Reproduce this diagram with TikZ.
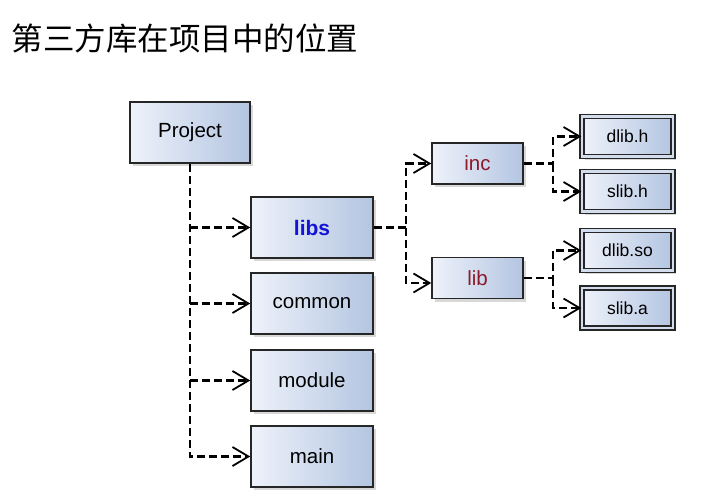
\documentclass[tikz,border=0pt]{standalone}
\usepackage{fontspec}
\setmainfont{Liberation Sans}
\newfontfamily\cjk{Noto Sans CJK SC}
\usetikzlibrary{arrows.meta,shadows}
\definecolor{boxl}{HTML}{EEF2FA}
\definecolor{boxr}{HTML}{B3C5E1}
\definecolor{boxm}{HTML}{D3DDEE}
\definecolor{libsblue}{HTML}{1414D8}
\definecolor{incred}{HTML}{8B1A2A}
\tikzset{
  box/.style={draw=black!85, line width=1.5pt, left color=boxl, right color=boxr,
    minimum width=#1, inner sep=0pt,
    drop shadow={shadow xshift=3pt, shadow yshift=-3pt, opacity=0.25, fill=black!60}},
  big/.style={box=122pt, minimum height=61pt, font=\fontsize{20.5}{24}\selectfont},
  mid/.style={box=91pt, minimum height=41pt, font=\fontsize{20.5}{24}\selectfont, text=incred},
  file/.style={box=91pt, minimum height=40pt, font=\fontsize{17.5}{20}\selectfont,
    double=boxm, double distance=2.4pt, line width=1.4pt},
  conn/.style={line width=2.1pt, dash pattern=on 8pt off 4pt,
    -{Straight Barb[length=16pt, width=19pt, line width=1.8pt]}},
  dline/.style={line width=2.1pt, dash pattern=on 8pt off 4pt}
}
\begin{document}
\begin{tikzpicture}[x=1pt,y=-1pt]
\useasboundingbox (0,0) rectangle (703,500);
\fill[white] (0,0) rectangle (703,500);
\node[anchor=west, font=\cjk\fontsize{31.5}{34}\selectfont] (title) at (8,38) {第三方库在项目中的位置};

\node[big, minimum width=120pt] (proj) at (190,132.5) {Project};
\node[big, text=libsblue, font=\fontsize{21}{24}\selectfont\bfseries] (libs) at (312,227.5) {libs};
\node[big] (common) at (312,303.5) {common};
\node[big] (module) at (312,380.5) {module};
\node[big] (main) at (312,456.5) {main};

\node[mid] (inc) at (477.5,163.5) {inc};
\node[mid] (lib) at (477.5,278) {lib};

\node[file] (dlibh) at (627.5,136.5) {dlib.h};
\node[file] (slibh) at (627.5,191.5) {slib.h};
\node[file] (dlibso) at (627.5,250.5) {dlib.so};
\node[file] (sliba) at (627.5,308) {slib.a};

\coordinate (j1) at (406,0);
\coordinate (j2) at (553,0);

\draw[conn] (proj.south) |- (main.west);
\draw[conn] (proj.south |- libs.west) -- (libs.west);
\draw[conn] (proj.south |- common.west) -- (common.west);
\draw[conn] (proj.south |- module.west) -- (module.west);

\draw[conn] (libs.east) -- (libs.east -| j1) |- (inc.west);
\draw[conn] (libs.east -| j1) |- ([yshift=-5pt]lib.west);

\draw[conn] (inc.east) -- (inc.east -| j2) |- (dlibh.west);
\draw[conn] (inc.east -| j2) |- (slibh.west);

\draw[conn] (lib.east) -- (lib.east -| j2) |- (dlibso.west);
\draw[conn] (lib.east -| j2) |- (sliba.west);
\end{tikzpicture}
\end{document}
